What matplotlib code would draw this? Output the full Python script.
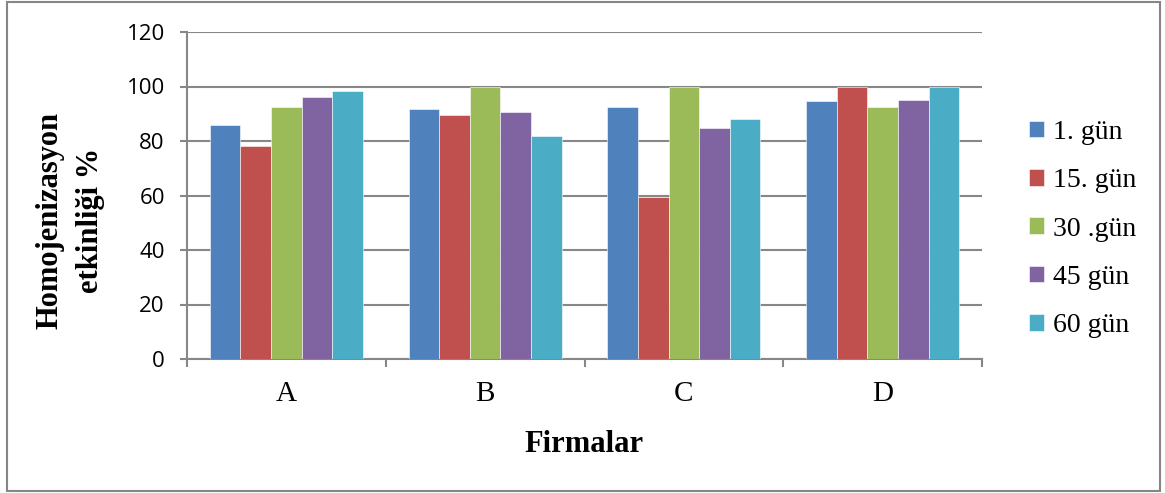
import numpy as np
import matplotlib.pyplot as plt
from matplotlib.patches import Rectangle

firms = ['A', 'B', 'C', 'D']
series_names = ['1. gün', '15. gün', '30 .gün', '45 gün', '60 gün']
day1 = [86, 91.7, 92.4, 94.6]
day15 = [78, 89.5, 59.4, 100]
day30 = [92.4, 100, 100, 92.4]
day45 = [96.1, 90.7, 84.9, 95.2]
day60 = [98.3, 81.9, 88, 100]
colors = ['#4F81BD', '#C0504D', '#9BBB59', '#8064A2', '#4BACC6']

serif = 'Liberation Serif'
sans = 'Open Sans'

fig = plt.figure(figsize=(11.65, 4.93), dpi=100)
ax = fig.add_axes([187 / 1165, 1 - 359 / 493, (982 - 187) / 1165, (359 - 32) / 493])

# outer frame of the chart
fig.patches.append(Rectangle((7 / 1165, 2 / 493), 1153 / 1165, 489 / 493, transform=fig.transFigure,
                             fill=False, edgecolor='#868686', linewidth=1.5))

x = np.arange(len(firms))
width = 0.154
all_series = [day1, day15, day30, day45, day60]
for i, (vals, name) in enumerate(zip(all_series, series_names)):
    ax.bar(x + (i - 2) * width, vals, width, color=colors[i], label=name,
           edgecolor='white', linewidth=0.4, zorder=3)

ax.set_xlim(-0.5, 3.5)
ax.set_ylim(0, 120)
ax.set_yticks(np.arange(0, 121, 20))
ax.yaxis.grid(True, color='#878787', linewidth=1.5, zorder=0)
ax.set_axisbelow(True)

for s in ['top', 'right']:
    ax.spines[s].set_visible(False)
for s in ['left', 'bottom']:
    ax.spines[s].set_color('#878787')
    ax.spines[s].set_linewidth(1.5)

ax.set_xticks(x)
ax.set_xticklabels(firms, fontfamily=serif, fontsize=21)
ax.set_xticks(np.arange(-0.5, 4, 1), minor=True)
ax.tick_params(axis='x', which='major', length=0, pad=16)
ax.tick_params(axis='x', which='minor', length=6, width=1.5, color='#878787', direction='out')
ax.tick_params(axis='y', length=5, width=1.5, color='#878787', pad=11)
for lbl in ax.get_yticklabels():
    lbl.set_fontfamily(sans)
    lbl.set_fontsize(16)

fig.text(584 / 1165, 1 - 445 / 493, 'Firmalar', fontfamily=serif, fontweight='bold',
         fontsize=22, ha='center', va='center')
fig.text(50 / 1165, 1 - 220 / 493, 'Homojenizasyon', fontfamily=serif, fontweight='bold',
         fontsize=22, ha='center', va='center', rotation=90)
fig.text(90 / 1165, 1 - 220 / 493, 'etkinliği %', fontfamily=serif, fontweight='bold',
         fontsize=22, ha='center', va='center', rotation=90)

leg = fig.legend(loc='center left', bbox_to_anchor=(1018 / 1165, 1 - 229 / 493), frameon=False,
                 prop={'family': serif, 'size': 20}, handlelength=0.55, handleheight=0.55,
                 handletextpad=0.3, labelspacing=0.84, borderaxespad=0)

fig.savefig('out.png', dpi=100)
